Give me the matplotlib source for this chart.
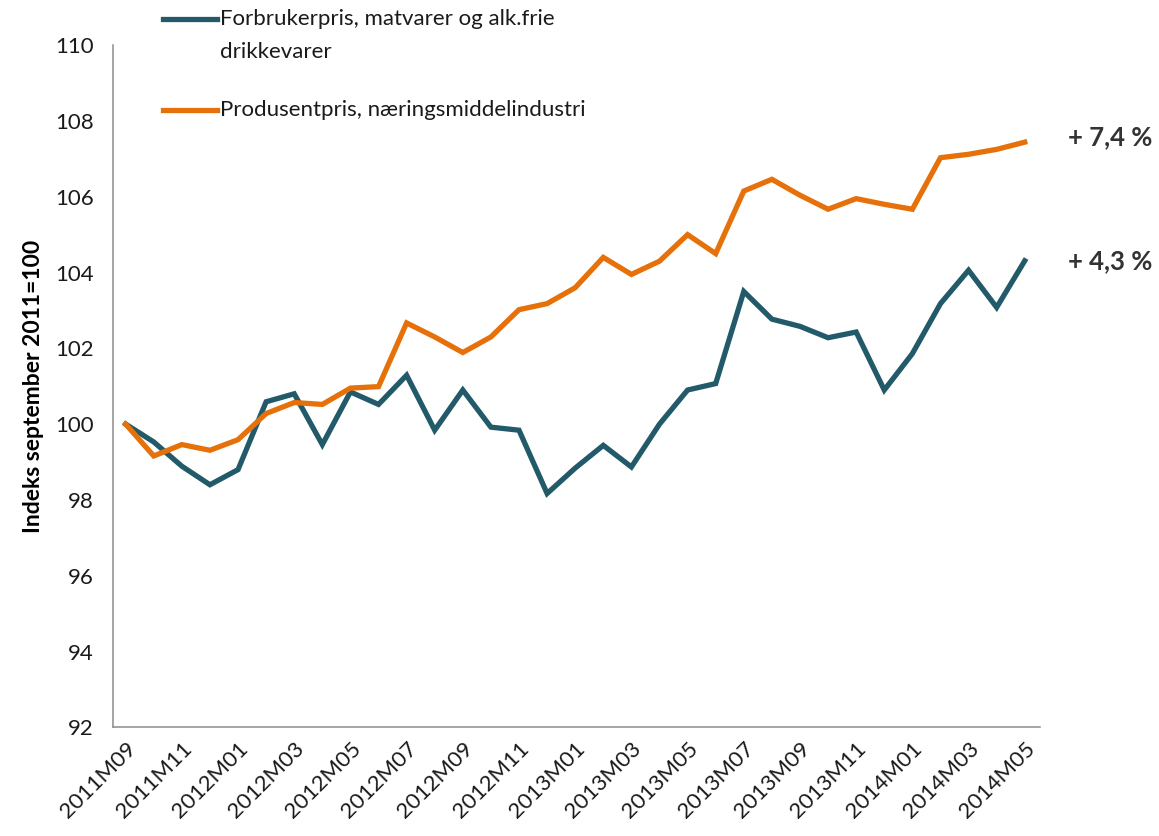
import matplotlib
matplotlib.use("Agg")
import matplotlib.pyplot as plt

plt.rcParams["font.family"] = ["Lato", "DejaVu Sans"]

months = ["2011M09", "2011M10", "2011M11", "2011M12",
          "2012M01", "2012M02", "2012M03", "2012M04", "2012M05", "2012M06",
          "2012M07", "2012M08", "2012M09", "2012M10", "2012M11", "2012M12",
          "2013M01", "2013M02", "2013M03", "2013M04", "2013M05", "2013M06",
          "2013M07", "2013M08", "2013M09", "2013M10", "2013M11", "2013M12",
          "2014M01", "2014M02", "2014M03", "2014M04", "2014M05"]

forbruker = [100.0, 99.53, 98.89, 98.4, 98.8, 100.59, 100.8, 99.46, 100.85, 100.52,
             101.29, 99.84, 100.9, 99.92, 99.84, 98.17, 98.84, 99.44, 98.87, 100.0,
             100.9, 101.07, 103.5, 102.77, 102.58, 102.28, 102.43, 100.9, 101.86,
             103.18, 104.06, 103.08, 104.31]

produsent = [100.0, 99.16, 99.46, 99.31, 99.59, 100.28, 100.57, 100.52, 100.95, 100.99,
             102.67, 102.3, 101.89, 102.3, 103.02, 103.18, 103.6, 104.4, 103.95, 104.3,
             105.0, 104.5, 106.15, 106.46, 106.04, 105.67, 105.95, 105.8, 105.67,
             107.03, 107.12, 107.25, 107.44]

labels = ["Forbrukerpris, matvarer og alk.frie\ndrikkevarer",
          "Produsentpris, næringsmiddelindustri"]
end_labels = ["+ 4,3 %", "+ 7,4 %"]

teal = "#235A69"
orange = "#E6710A"

fig = plt.figure(figsize=(11.59, 8.36), dpi=100)
ax = fig.add_axes([0.0975, 0.130, 0.80, 0.816])

x = list(range(len(months)))
ax.plot(x, forbruker, color=teal, lw=3.8, solid_joinstyle="miter")
ax.plot(x, produsent, color=orange, lw=3.8, solid_joinstyle="miter")

ax.set_ylim(92, 110)
ax.set_yticks(range(92, 111, 2))
ax.set_xlim(-0.45, len(months) - 0.45)
ax.set_xticks(x[::2])
ax.set_xticklabels(months[::2], rotation=45, ha="right", rotation_mode="anchor")

for s in ["top", "right"]:
    ax.spines[s].set_visible(False)
for s in ["left", "bottom"]:
    ax.spines[s].set_color("#8c8c8c")
    ax.spines[s].set_linewidth(1.1)

ax.tick_params(axis="y", length=0, pad=14, labelsize=16, colors="#1a1a1a")
ax.tick_params(axis="x", length=0, pad=8, labelsize=16, colors="#1a1a1a")

ax.set_ylabel("Indeks september 2011=100", fontsize=16.5, fontweight="bold", labelpad=8)

ax.text(1.03, (forbruker[-1] - 92) / 18, end_labels[0], transform=ax.transAxes,
        fontsize=18.5, fontweight="bold", color="#333333", va="center")
ax.text(1.03, (produsent[-1] - 92) / 18 + 0.007, end_labels[1], transform=ax.transAxes,
        fontsize=18.5, fontweight="bold", color="#333333", va="center")

# legend drawn by hand so the teal key sits on the first text line
ax.plot([0.054, 0.112], [1.0378, 1.0378], transform=ax.transAxes, color=teal,
        lw=3.8, clip_on=False)
ax.text(0.1155, 1.0378, labels[0].split("\n")[0], transform=ax.transAxes,
        fontsize=16, va="center", color="#1a1a1a")
ax.text(0.1155, 0.9894, labels[0].split("\n")[1], transform=ax.transAxes,
        fontsize=16, va="center", color="#1a1a1a")
ax.plot([0.054, 0.112], [0.9045, 0.9045], transform=ax.transAxes, color=orange,
        lw=3.8, clip_on=False)
ax.text(0.1155, 0.9045, labels[1], transform=ax.transAxes,
        fontsize=16, va="center", color="#1a1a1a")

fig.savefig("out.png", dpi=100)
